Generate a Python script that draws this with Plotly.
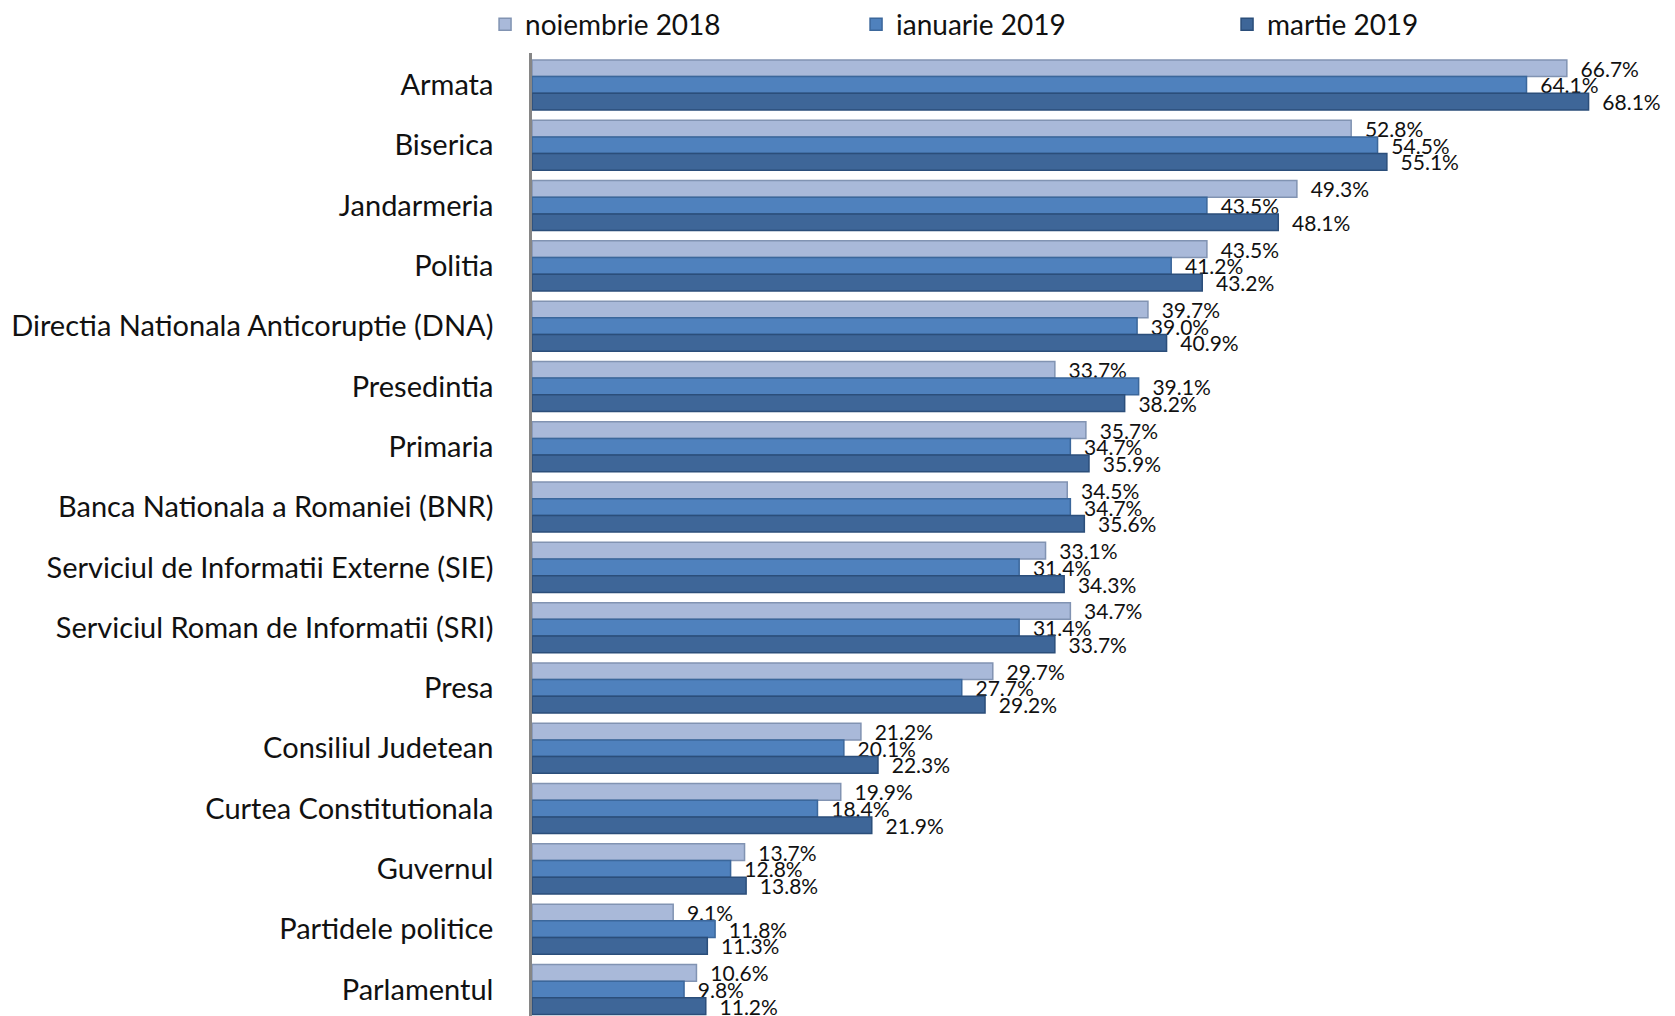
import plotly.graph_objects as go

categories = [
    "Armata", "Biserica", "Jandarmeria", "Politia",
    "Directia Nationala Anticoruptie (DNA)", "Presedintia", "Primaria",
    "Banca Nationala a Romaniei (BNR)", "Serviciul de Informatii Externe (SIE)",
    "Serviciul Roman de Informatii (SRI)", "Presa", "Consiliul Judetean",
    "Curtea Constitutionala", "Guvernul", "Partidele politice", "Parlamentul",
]
nov_2018 = [66.7, 52.8, 49.3, 43.5, 39.7, 33.7, 35.7, 34.5, 33.1, 34.7, 29.7, 21.2, 19.9, 13.7, 9.1, 10.6]
ian_2019 = [64.1, 54.5, 43.5, 41.2, 39.0, 39.1, 34.7, 34.7, 31.4, 31.4, 27.7, 20.1, 18.4, 12.8, 11.8, 9.8]
mar_2019 = [68.1, 55.1, 48.1, 43.2, 40.9, 38.2, 35.9, 35.6, 34.3, 33.7, 29.2, 22.3, 21.9, 13.8, 11.3, 11.2]

series_names = ["noiembrie 2018", "ianuarie 2019", "martie 2019"]
series_values = [nov_2018, ian_2019, mar_2019]
fills = ["#A9B9D9", "#4F81BD", "#3E6698"]
borders = ["#8193B2", "#3B679B", "#2B4E7A"]

FONT = "Lato, 'Open Sans', sans-serif"

fig = go.Figure()
for name, vals, fc, bc in zip(series_names, series_values, fills, borders):
    fig.add_trace(go.Bar(
        y=categories, x=vals, name=name, orientation="h",
        marker=dict(color=fc, line=dict(color=bc, width=1.5)),
        text=[f"  {v:.1f}%" for v in vals],
        textposition="outside", constraintext="none", cliponaxis=False,
        textfont=dict(family=FONT, size=21, color="#111111"),
    ))

fig.update_layout(
    width=1669, height=1008,
    margin=dict(l=524, r=0, t=45, b=0, autoexpand=False),
    paper_bgcolor="white", plot_bgcolor="white",
    barmode="group", bargap=0.17, bargroupgap=0,
    font=dict(family=FONT, color="#111111"),
    showlegend=True,
    legend=dict(
        orientation="h", x=-0.041, y=1.0555, xanchor="left", yanchor="top",
        font=dict(family=FONT, size=28, color="#111111"),
        entrywidth=326, entrywidthmode="pixels",
        bgcolor="rgba(0,0,0,0)", borderwidth=0,
    ),
    xaxis=dict(range=[0, 73.8], visible=False, showgrid=False, zeroline=False),
    yaxis=dict(
        range=[15.44, -0.53], showgrid=False, zeroline=False,
        showline=True, linecolor="#868686", linewidth=2.5,
        ticks="", ticklabelstandoff=30,
        tickfont=dict(family=FONT, size=29, color="#111111"),
    ),
)

fig.write_html("out.html")
